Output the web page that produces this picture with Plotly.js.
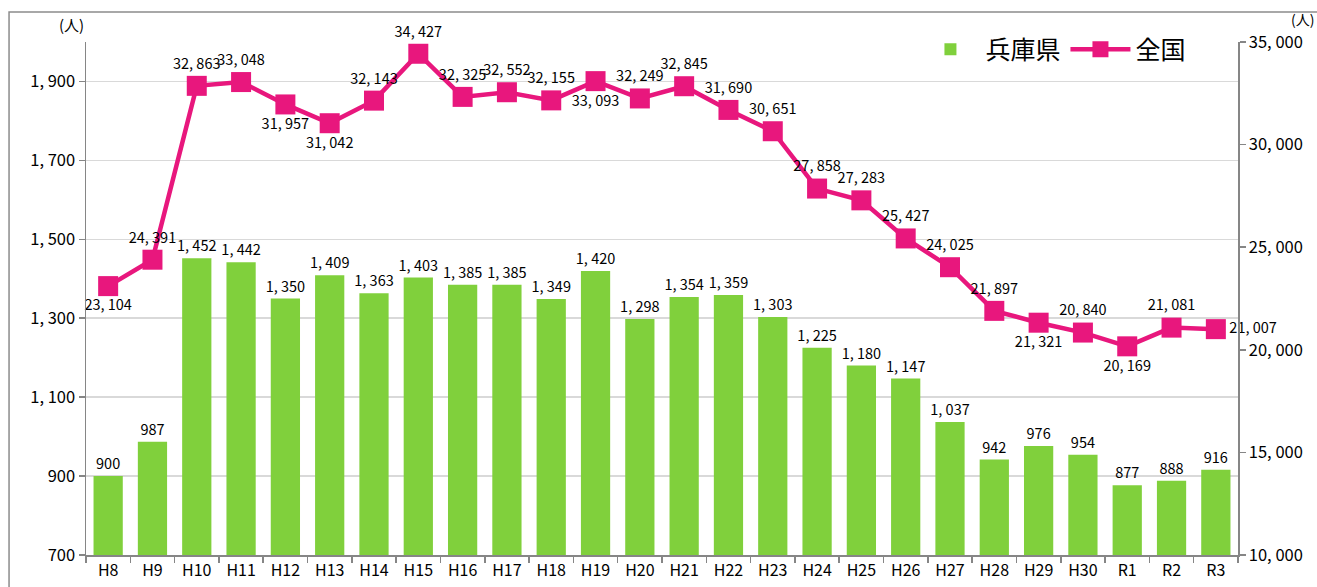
<!DOCTYPE html>
<html>
<head>
<meta charset="utf-8">
<script src="https://cdn.plot.ly/plotly-3.0.1.min.js"></script>
<style>html,body{margin:0;padding:0;background:#fff;}#chart{width:1317px;height:587px;}</style>
</head>
<body>
<div id="chart"></div>
<script>
const categories = ["H8","H9","H10","H11","H12","H13","H14","H15","H16","H17","H18","H19","H20","H21","H22","H23","H24","H25","H26","H27","H28","H29","H30","R1","R2","R3"];
const hyogo = [900,987,1452,1442,1350,1409,1363,1403,1385,1385,1349,1420,1298,1354,1359,1303,1225,1180,1147,1037,942,976,954,877,888,916];
const national = [23104,24391,32863,33048,31957,31042,32143,34427,32325,32552,32155,33093,32249,32845,31690,30651,27858,27283,25427,24025,21897,21321,20840,20169,21081,21007];
const nationalLabelPos = ["bottom center","top center","top center","top center","bottom center","bottom center","top center","top center","top center","top center","top center","bottom center","top center","top center","top center","top center","top center","top center","top center","top center","top center","bottom center","top center","bottom center","top center","middle right"];
const leftTicks = [700,900,1100,1300,1500,1700,1900];
const rightTicks = [10000,15000,20000,25000,30000,35000];
const seriesNames = ["兵庫県","全国"];
const unitLabel = "(人)";

const fmt = n => n.toLocaleString('en-US').replace(/,/g, ', ');
const FONT = '"Noto Sans CJK JP", "Noto Sans", sans-serif';
const AXIS = '#868686';

const traces = [
  {
    type: 'bar', name: seriesNames[0], x: categories, y: hyogo,
    marker: {color: '#80D03C'},
    width: 0.66,
    text: hyogo.map(fmt), textposition: 'outside', cliponaxis: false, constraintext: 'none',
    textfont: {size: 14.5, color: '#000', family: FONT},
    hoverinfo: 'x+y'
  },
  {
    type: 'scatter', mode: 'lines+markers+text', name: seriesNames[1],
    x: categories, y: national, yaxis: 'y2',
    line: {color: '#E8177D', width: 4.5},
    marker: {symbol: 'square', size: 20, color: '#E8177D'},
    text: national.map(fmt), textposition: nationalLabelPos, cliponaxis: false,
    textfont: {size: 14.5, color: '#000', family: FONT}
  }
];

const layout = {
  width: 1317, height: 587,
  margin: {l: 86, r: 79, t: 42, b: 32},
  paper_bgcolor: '#fff', plot_bgcolor: '#fff',
  font: {family: FONT, color: '#000'},
  showlegend: true,
  legend: {
    orientation: 'h', x: 0.72, y: 1.03, xanchor: 'left', yanchor: 'top',
    font: {size: 25, family: FONT, color: '#000'},
    bgcolor: 'rgba(0,0,0,0)', itemwidth: 60, traceorder: 'normal'
  },
  xaxis: {
    type: 'category', range: [-0.5, 25.5], showline: true, linecolor: AXIS, linewidth: 1.5,
    ticks: 'outside', tickson: 'boundaries', ticklen: 6, tickcolor: AXIS, tickwidth: 1.5,
    tickfont: {size: 16, family: FONT}, showgrid: false, fixedrange: true
  },
  yaxis: {
    range: [700, 2000], tickvals: leftTicks, ticktext: leftTicks.map(fmt),
    showline: true, linecolor: AXIS, linewidth: 1.5,
    ticks: 'outside', ticklen: 6, tickcolor: AXIS, tickwidth: 1.5,
    showgrid: true, gridcolor: '#D9D9D9', gridwidth: 1.5, zeroline: false,
    tickfont: {size: 16.5, family: FONT}
  },
  yaxis2: {
    range: [10000, 35000], overlaying: 'y', side: 'right',
    tickvals: rightTicks, ticktext: rightTicks.map(fmt),
    showline: true, linecolor: AXIS, linewidth: 1.5,
    ticks: 'outside', ticklen: 6, tickcolor: AXIS, tickwidth: 1.5,
    showgrid: false, zeroline: false,
    tickfont: {size: 16.5, family: FONT}
  },
  shapes: [
    {type: 'rect', xref: 'paper', yref: 'paper', x0: -0.0668, x1: 1.3, y0: -0.3, y1: 1.0585,
     line: {color: '#8C8C8C', width: 1.5}, fillcolor: 'rgba(0,0,0,0)', layer: 'below'}
  ],
  annotations: [
    {xref: 'paper', yref: 'paper', x: -0.013, y: 1.0, xanchor: 'center', yanchor: 'bottom', yshift: 5,
     text: unitLabel, showarrow: false, font: {size: 15, family: FONT}},
    {xref: 'paper', yref: 'paper', x: 1.0, y: 1.0, xanchor: 'right', yanchor: 'bottom', yshift: 11,
     text: unitLabel, showarrow: false, font: {size: 14, family: FONT}, xshift: 78}
  ]
};

Plotly.newPlot('chart', traces, layout, {displayModeBar: false, staticPlot: true});
</script>
</body>
</html>
